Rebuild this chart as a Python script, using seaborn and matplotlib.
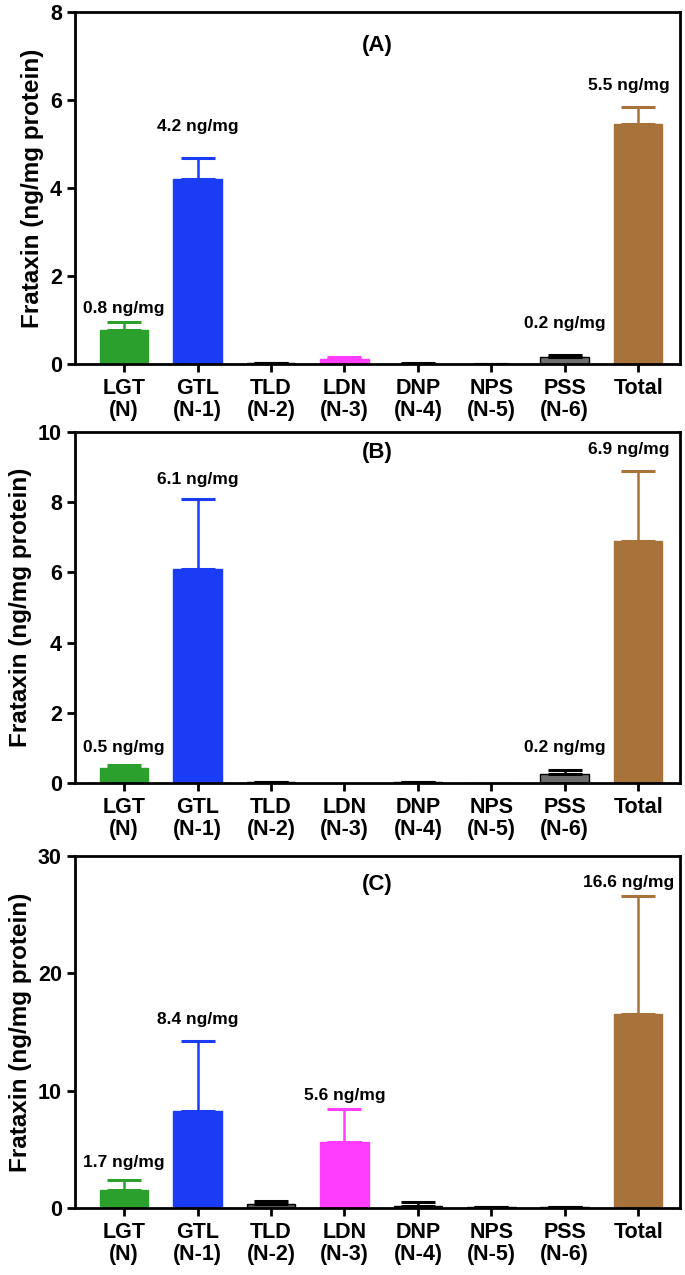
import numpy as np
import pandas as pd
import seaborn as sns
import matplotlib
matplotlib.use("Agg")
import matplotlib.pyplot as plt

sns.set_theme(style="ticks")
plt.rcParams['font.family'] = ['Liberation Sans', 'DejaVu Sans']
plt.rcParams['font.weight'] = 'bold'
plt.rcParams['text.color'] = 'black'
plt.rcParams['axes.labelcolor'] = 'black'
plt.rcParams['xtick.color'] = 'black'
plt.rcParams['ytick.color'] = 'black'

categories = ["LGT\n(N)", "GTL\n(N-1)", "TLD\n(N-2)", "LDN\n(N-3)", "DNP\n(N-4)", "NPS\n(N-5)", "PSS\n(N-6)", "Total"]
bar_colors = ["#2ca02c", "#1a3cf5", "#5a5a5a", "#ff3cff", "#4a4a4a", "#3a3a3a", "#6e6e6e", "#a8733a"]

means_A = [0.78, 4.20, 0.02, 0.12, 0.01, 0.005, 0.16, 5.45]
err_A   = [0.17, 0.48, 0.01, 0.04, 0.01, 0.005, 0.05, 0.39]
means_B = [0.43, 6.10, 0.02, 0.0, 0.03, 0.0, 0.25, 6.90]
err_B   = [0.07, 2.00, 0.01, 0.0, 0.01, 0.0, 0.13, 2.00]
means_C = [1.5, 8.3, 0.30, 5.6, 0.15, 0.05, 0.05, 16.5]
err_C   = [0.9, 5.9, 0.30, 2.8, 0.40, 0.03, 0.03, 10.1]

titles = ["(A)", "(B)", "(C)"]
ylims = [8, 10, 30]
yticks = [[0, 2, 4, 6, 8], [0, 2, 4, 6, 8, 10], [0, 10, 20, 30]]

labels_A = {0: "0.8 ng/mg", 1: "4.2 ng/mg", 6: "0.2 ng/mg", 7: "5.5 ng/mg"}
labels_B = {0: "0.5 ng/mg", 1: "6.1 ng/mg", 6: "0.2 ng/mg", 7: "6.9 ng/mg"}
labels_C = {0: "1.7 ng/mg", 1: "8.4 ng/mg", 3: "5.6 ng/mg", 7: "16.6 ng/mg"}

# layout: label heights (data units) and title position
label_y_A = {0: 1.27, 1: 5.4, 6: 0.93, 7: 6.34}
label_y_B = {0: 1.0, 1: 8.65, 6: 1.0, 7: 9.5}
label_y_C = {0: 3.9, 1: 16.1, 3: 9.6, 7: 27.7}
title_y = [0.906, 0.943, 0.918]

W, H = 685, 1275
fig = plt.figure(figsize=(W / 100, H / 100), dpi=100)
panels = [(12, 364), (432, 783), (856, 1208)]
left, right = 75, 680

data = [(means_A, err_A, labels_A, label_y_A),
        (means_B, err_B, labels_B, label_y_B),
        (means_C, err_C, labels_C, label_y_C)]

for i, ((top, bot), (m, e, labs, laby)) in enumerate(zip(panels, data)):
    ax = fig.add_axes([left / W, 1 - bot / H, (right - left) / W, (bot - top) / H])
    df = pd.DataFrame({"cat": categories, "val": m})
    sns.barplot(data=df, x="cat", y="val", hue="cat", palette=bar_colors,
                order=categories, hue_order=categories, legend=False,
                width=0.66, ax=ax, errorbar=None, saturation=1)
    for j, p in enumerate(ax.patches):
        c = bar_colors[j]
        ec = "black" if c in ("#5a5a5a", "#4a4a4a", "#3a3a3a", "#6e6e6e") else c
        p.set_edgecolor(ec)
        p.set_linewidth(1.0)
        xc = p.get_x() + p.get_width() / 2
        if e[j] > 0:
            ax.errorbar(xc, m[j], yerr=[[0], [e[j]]], color=ec, capsize=12,
                        capthick=2.2, elinewidth=1.8, fmt='none', zorder=1)
    for j, txt in labs.items():
        xoff = -0.13 if j == 7 else 0
        ax.text(j + xoff, laby[j], txt, ha='center', va='center', fontsize=12.5,
                fontweight='bold')
    ax.text(0.5, title_y[i], titles[i], transform=ax.transAxes, ha='center',
            va='center', fontsize=16, fontweight='bold')
    ax.set_xlim(-0.67, 7.57)
    ax.set_ylim(0, ylims[i])
    ax.set_yticks(yticks[i])
    ax.set_xlabel("")
    ax.set_ylabel("Frataxin (ng/mg protein)", fontsize=17.5, fontweight='bold', labelpad=4)
    for s in ax.spines.values():
        s.set_linewidth(2)
        s.set_color("black")
    ax.tick_params(axis='both', direction='out', length=6, width=2, labelsize=15.5, colors='black')
    ax.tick_params(axis='x', pad=4)
    for t in ax.get_xticklabels() + ax.get_yticklabels():
        t.set_fontweight('bold')
        t.set_linespacing(1.1)

fig.savefig("out.png", dpi=100)
